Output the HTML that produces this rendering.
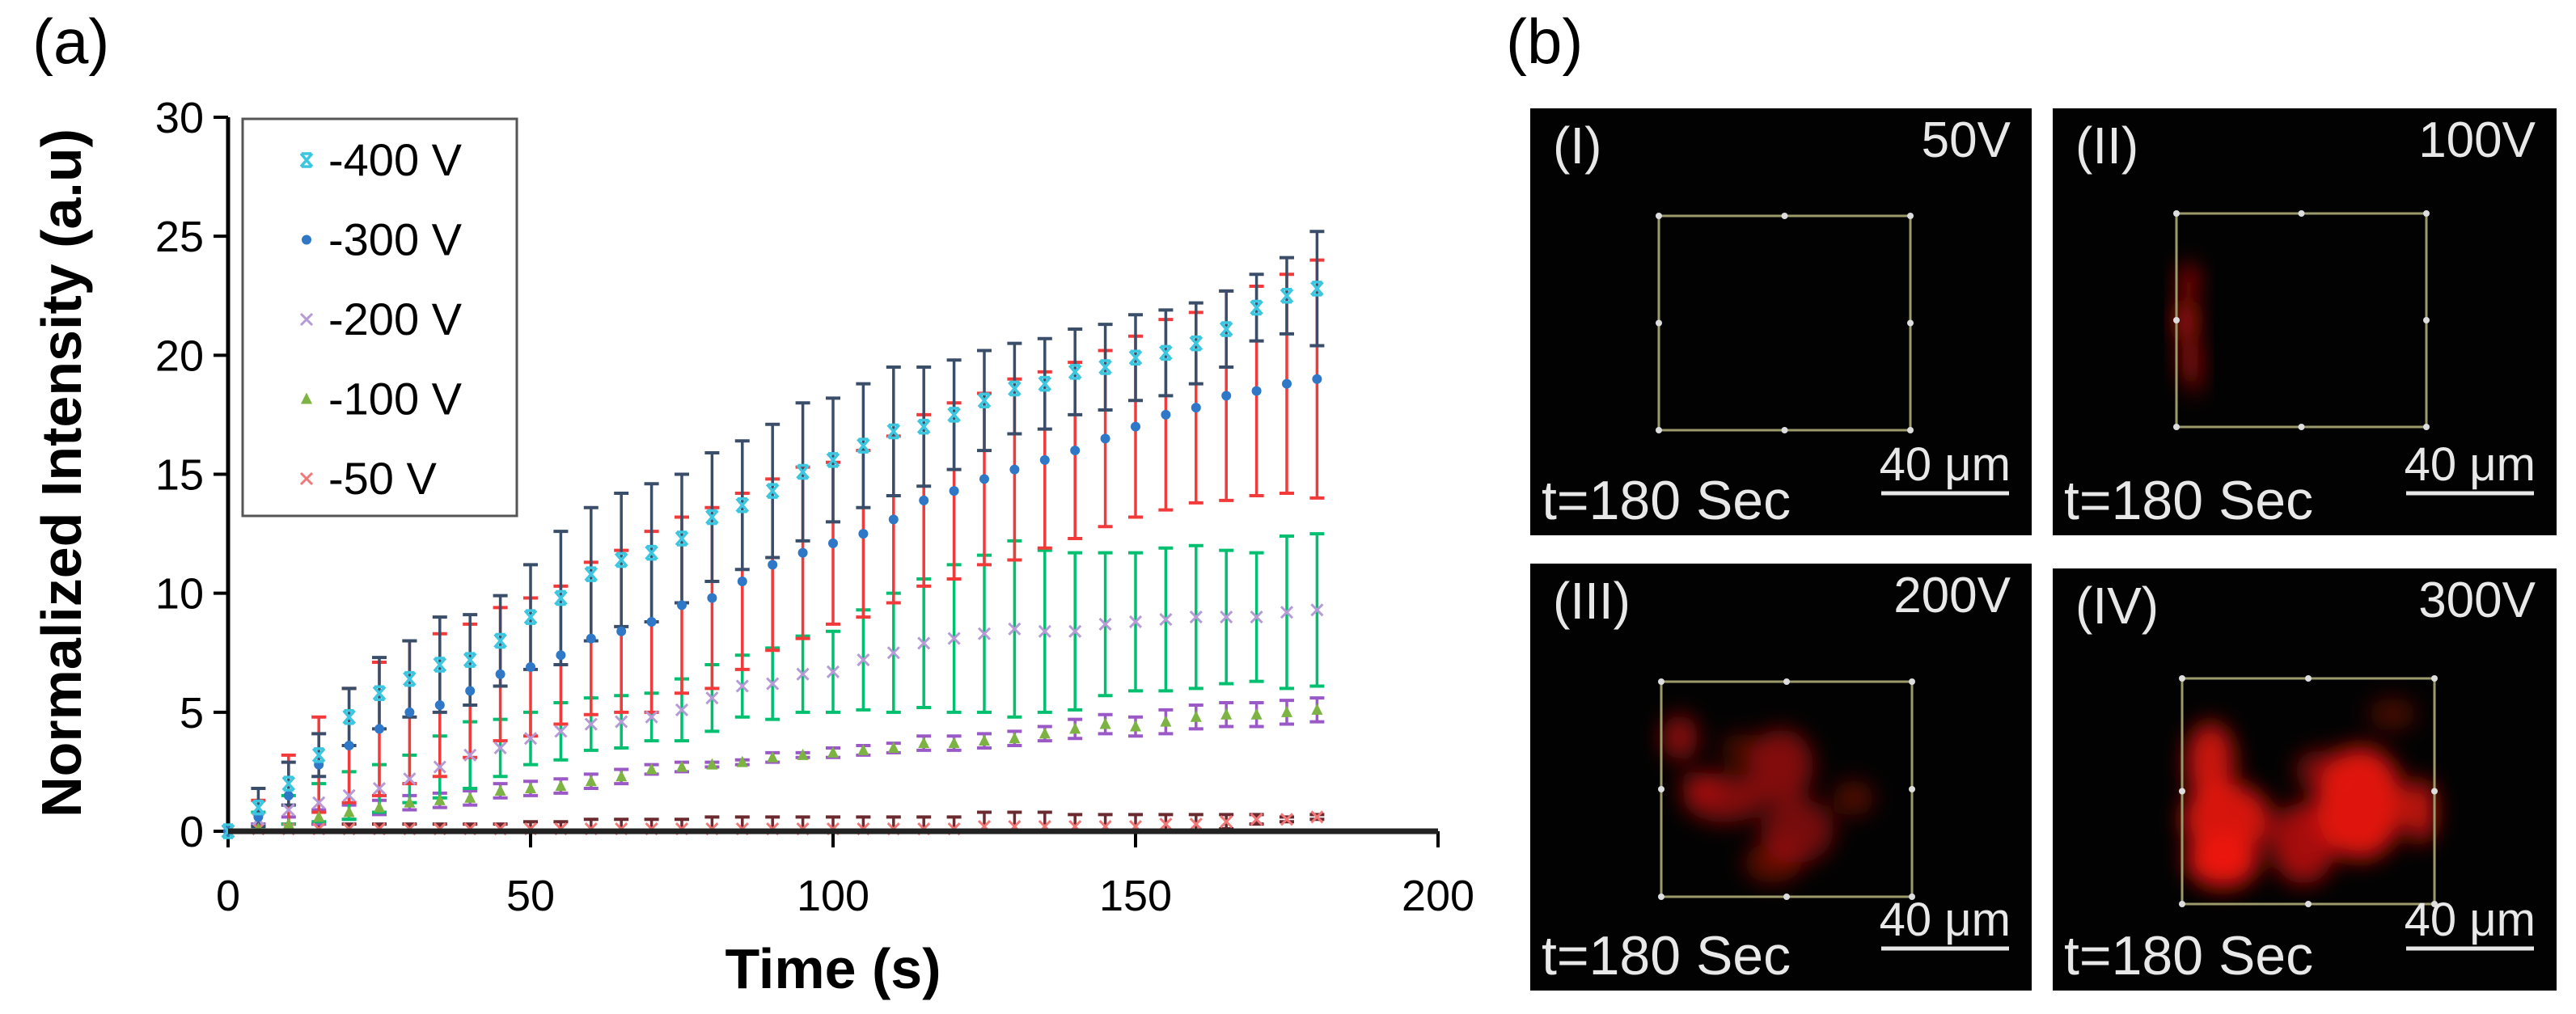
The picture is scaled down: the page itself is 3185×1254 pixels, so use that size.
<!DOCTYPE html>
<html><head><meta charset="utf-8">
<style>
html,body{margin:0;padding:0;background:#fff;}
svg{display:block;font-family:"Liberation Sans",Arial,sans-serif;}
</style></head>
<body>
<svg id="fig" width="3185" height="1254" viewBox="0 0 3185 1254" xmlns="http://www.w3.org/2000/svg">
<defs>
  <filter id="blur" x="-50%" y="-50%" width="200%" height="200%"><feGaussianBlur stdDeviation="14"/></filter>
</defs>
<text x="40" y="78" font-size="78">(a)</text>
<text x="1862" y="78" font-size="78">(b)</text>
<g id="chart"></g>
<g id="micro"></g>
</svg>
<script>
const times = [0,5,10,15,20,25,30,35,40,45,50,55,60,65,70,75,80,85,90,95,100,105,110,115,120,125,130,135,140,145,150,155,160,165,170,175,180];
const v400 = [0,1.0,2.0,3.2,4.8,5.8,6.4,7.0,7.2,8.0,9.0,9.8,10.8,11.4,11.7,12.3,13.2,13.7,14.3,15.1,15.6,16.2,16.8,17.0,17.5,18.1,18.6,18.8,19.3,19.5,19.9,20.1,20.5,21.1,22.0,22.5,22.8];
const e400 = [0,0.8,0.9,0.9,1.2,1.5,1.6,2.0,1.9,1.9,2.2,2.8,2.8,2.8,2.9,2.7,2.7,2.7,2.8,2.9,2.6,2.6,2.7,2.5,2.3,2.1,1.9,1.9,1.8,1.8,1.8,1.8,1.7,1.6,1.4,1.6,2.4];
const v300 = [0,0.6,1.5,2.8,3.6,4.3,5.0,5.3,5.9,6.6,6.9,7.4,8.1,8.4,8.8,9.5,9.8,10.5,11.2,11.7,12.1,12.5,13.1,13.9,14.3,14.8,15.2,15.6,16.0,16.5,17.0,17.5,17.8,18.3,18.5,18.8,19.0];
const e300 = [0,0.7,1.7,2.0,2.4,2.8,3.0,3.0,2.8,2.8,2.9,2.9,3.2,3.4,3.8,3.7,3.8,3.7,3.6,3.6,3.4,3.5,3.5,3.6,3.7,3.6,3.8,3.7,3.7,3.7,3.8,4.0,4.0,4.4,4.4,4.6,5.0];
const v200 = [0,0.5,0.9,1.2,1.5,1.8,2.2,2.7,3.2,3.5,3.9,4.2,4.5,4.6,4.8,5.1,5.6,6.1,6.2,6.6,6.7,7.2,7.5,7.9,8.1,8.3,8.5,8.4,8.4,8.7,8.8,8.9,9.0,9.0,9.0,9.2,9.3];
const e200 = [0,0.3,0.6,0.8,1.0,1.0,1.0,1.3,1.4,1.2,1.1,1.2,1.1,1.1,1.0,1.3,1.4,1.3,1.5,1.6,1.7,2.1,2.5,2.7,3.1,3.3,3.7,3.4,3.3,3.0,2.9,3.0,3.0,2.8,2.7,3.2,3.2];
const v100 = [0,0.1,0.3,0.6,0.8,1.0,1.2,1.3,1.4,1.7,1.8,1.9,2.1,2.3,2.6,2.7,2.8,2.9,3.1,3.2,3.3,3.4,3.5,3.7,3.7,3.8,3.9,4.1,4.3,4.5,4.4,4.6,4.8,4.9,4.9,5.0,5.1];
const e100 = [0,0.2,0.3,0.3,0.3,0.3,0.3,0.3,0.3,0.3,0.3,0.3,0.3,0.3,0.2,0.2,0.1,0.1,0.2,0.1,0.2,0.2,0.2,0.3,0.3,0.3,0.3,0.3,0.4,0.4,0.4,0.5,0.5,0.5,0.5,0.5,0.5];
const v50 = [0,0.1,0.1,0.1,0.1,0.1,0.1,0.1,0.1,0.1,0.1,0.1,0.1,0.1,0.1,0.1,0.1,0.1,0.1,0.1,0.1,0.1,0.1,0.1,0.1,0.2,0.2,0.2,0.2,0.2,0.2,0.3,0.3,0.4,0.5,0.5,0.6];
const e50 = [0,0.2,0.2,0.2,0.2,0.2,0.2,0.2,0.2,0.2,0.3,0.3,0.4,0.4,0.4,0.4,0.5,0.5,0.5,0.5,0.5,0.5,0.5,0.5,0.5,0.6,0.6,0.6,0.5,0.5,0.5,0.4,0.4,0.3,0.2,0.1,0.1];
const xTicks = [0,50,100,150,200];
const yTicks = [0,5,10,15,20,25,30];
const legendLabels = ["-400 V","-300 V","-200 V","-100 V","-50 V"];

const NS="http://www.w3.org/2000/svg";
const X0=282, X1=1778, Y0=1028, Y1=145;
const xs = t => X0 + (t/200)*(X1-X0);
const ys = v => Y0 - (v/30)*(Y0-Y1);
function mk(tag, attrs, parent){const e=document.createElementNS(NS,tag);for(const k in attrs)e.setAttribute(k,attrs[k]);parent.appendChild(e);return e;}
const chart=document.getElementById('chart');

const yAxis=mk('line',{x1:X0,y1:Y1,x2:X0,y2:Y0+2,stroke:'#000','stroke-width':5},chart);


yTicks.forEach(v=>{
  const tk=mk('line',{x1:X0-18,y1:ys(v),x2:X0,y2:ys(v),stroke:'#000','stroke-width':4},chart);
  
  
  const tl=mk('text',{x:X0-30,y:ys(v)+19,'font-size':54,'text-anchor':'end'},chart);
  tl.textContent=v;
  
  
});
xTicks.forEach(v=>{
  const tk=mk('line',{x1:xs(v),y1:Y0,x2:xs(v),y2:Y0+20,stroke:'#000','stroke-width':4},chart);
  
  
  const tl=mk('text',{x:xs(v),y:Y0+98,'font-size':54,'text-anchor':'middle'},chart);
  tl.textContent=v;
  
  
});
const xt=mk('text',{x:1030,y:1222,'font-size':70,'font-weight':'bold','text-anchor':'middle'},chart);
xt.textContent='Time (s)';


const yt=mk('text',{x:0,y:0,'font-size':70,'font-weight':'bold','text-anchor':'middle',transform:'translate(100,585) rotate(-90)'},chart);
yt.textContent='Normalized Intensity (a.u)';



const series=[
 {v:v400,e:e400,mc:'#3cc6e0',ec:'#3a4e6a',m:'star'},
 {v:v300,e:e300,mc:'#2f78c8',ec:'#f23a3a',m:'dot'},
 {v:v200,e:e200,mc:'#b69ad6',ec:'#00c070',m:'x'},
 {v:v100,e:e100,mc:'#7cb342',ec:'#9b59c8',m:'tri'},
 {v:v50,e:e50,mc:'#f27878',ec:'#6a2a30',m:'x'}
];
function marker(type,cx,cy,c,g){
  let el;
  if(type==='dot'){el=mk('circle',{cx:cx,cy:cy,r:6,fill:c},g);}
  else if(type==='tri'){el=mk('polygon',{points:`${cx},${cy-8} ${cx-7},${cy+6} ${cx+7},${cy+6}`,fill:c},g);}
  else if(type==='star'){el=mk('path',{d:`M${cx-7},${cy-8}L${cx+7},${cy+8}M${cx+7},${cy-8}L${cx-7},${cy+8}M${cx-6},${cy-8}H${cx+6}M${cx-6},${cy+8}H${cx+6}`,stroke:c,'stroke-width':3.5,fill:'none'},g);}
  else {el=mk('path',{d:`M${cx-7},${cy-7}L${cx+7},${cy+7}M${cx+7},${cy-7}L${cx-7},${cy+7}`,stroke:c,'stroke-width':3,fill:'none'},g);}
  return el;
}
const order=[4,3,2,1,0];
order.forEach(si=>{
  const s=series[si];
  const g=mk('g',{},chart);
  
  
  times.forEach((t,i)=>{
    if(i===0)return;
    const x=xs(t), yt2=ys(s.v[i]+s.e[i]), yb=ys(Math.max(0,s.v[i]-s.e[i]));
    mk('line',{x1:x,y1:yt2,x2:x,y2:yb,stroke:s.ec,'stroke-width':3.5},g);
    mk('line',{x1:x-9,y1:yt2,x2:x+9,y2:yt2,stroke:s.ec,'stroke-width':4},g);
    mk('line',{x1:x-9,y1:yb,x2:x+9,y2:yb,stroke:s.ec,'stroke-width':4},g);
  });
});
order.forEach(si=>{
  const s=series[si];
  const g=mk('g',{},chart);
  
  
  times.forEach((t,i)=>{
    const m=marker(s.m,xs(t),ys(s.v[i]),s.mc,g);
    
    
  });
});
const xAxis=mk('line',{x1:X0,y1:Y0,x2:X1,y2:Y0,stroke:'#222','stroke-width':7},chart);



const lg=mk('g',{},chart);


mk('rect',{x:300,y:147,width:339,height:491,fill:'#fff',stroke:'#555','stroke-width':3},lg);
legendLabels.forEach((lab,i)=>{
  const cy=198+i*98.5;
  const eg=mk('g',{},lg);
  
  
  marker(series[i].m,379,cy,series[i].mc,eg);
  const t=mk('text',{x:406,y:cy+19,'font-size':56},eg);
  t.textContent=lab;
});

const micro=document.getElementById('micro');
const panels=[
 {x:1892,y:134,w:620,h:528,id:'(I)',v:'50V',box:[159,133,470,398],blobs:[]},
 {x:2538,y:134,w:623,h:528,id:'(II)',v:'100V',box:[153,130,462,394],blobs:[[168,214,10,22,0.8],[165,262,12,26,0.9],[170,310,12,28,0.7],[176,340,8,14,0.5]]},
 {x:1892,y:697,w:620,h:528,id:'(III)',v:'200V',box:[162,146,472,412],blobs:[[185,215,22,28,0.6],[240,290,50,30,0.55],[310,250,40,45,0.55],[210,275,25,18,0.45],[330,330,45,40,0.5],[300,370,35,25,0.4],[400,290,25,22,0.35],[260,230,25,20,0.3]]},
 {x:2538,y:703,w:623,h:522,id:'(IV)',v:'300V',box:[160,136,472,415],blobs:[[195,240,30,50,0.85],[215,310,55,45,0.9],[210,360,45,35,1],[310,340,40,50,0.7],[380,290,55,70,0.95],[455,300,18,40,0.85],[330,250,30,25,0.5],[420,180,30,20,0.3]]}
];
panels.forEach(p=>{
  const g=mk('g',{transform:`translate(${p.x},${p.y})`},micro);
  
  
  mk('rect',{x:0,y:0,width:p.w,height:p.h,fill:'#020202'},g);
  const bg=mk('g',{filter:'url(#blur)'},g);
  p.blobs.forEach(b=>mk('ellipse',{cx:b[0],cy:b[1],rx:b[2],ry:b[3],fill:`rgba(235,20,15,${b[4]})`},bg));
  const [bx0,by0,bx1,by1]=p.box;
  const bx=mk('rect',{x:bx0,y:by0,width:bx1-bx0,height:by1-by0,fill:'none',stroke:'#9c9a6a','stroke-width':3},g);
  
  
  const mx=(bx0+bx1)/2,my=(by0+by1)/2;
  [[bx0,by0],[mx,by0],[bx1,by0],[bx0,my],[bx1,my],[bx0,by1],[mx,by1],[bx1,by1]].forEach(c=>mk('circle',{cx:c[0],cy:c[1],r:4,fill:'#ddd'},g));
  const t1=mk('text',{x:28,y:68,'font-size':64,fill:'#e8e8e8'},g);t1.textContent=p.id;
  
  
  const t2=mk('text',{x:p.w-26,y:60,'font-size':62,fill:'#e8e8e8','text-anchor':'end'},g);t2.textContent=p.v;
  
  
  const t3=mk('text',{x:14,y:p.h-20,'font-size':68,fill:'#e8e8e8'},g);t3.textContent='t=180 Sec';
  
  
  const t4=mk('text',{x:p.w-26,y:p.h-68,'font-size':58,fill:'#e8e8e8','text-anchor':'end'},g);t4.textContent='40 μm';
  
  
  const sb=mk('line',{x1:p.w-186,y1:p.h-52,x2:p.w-28,y2:p.h-52,stroke:'#e8e8e8','stroke-width':5},g);
  
  
});
</script>
</body></html>
